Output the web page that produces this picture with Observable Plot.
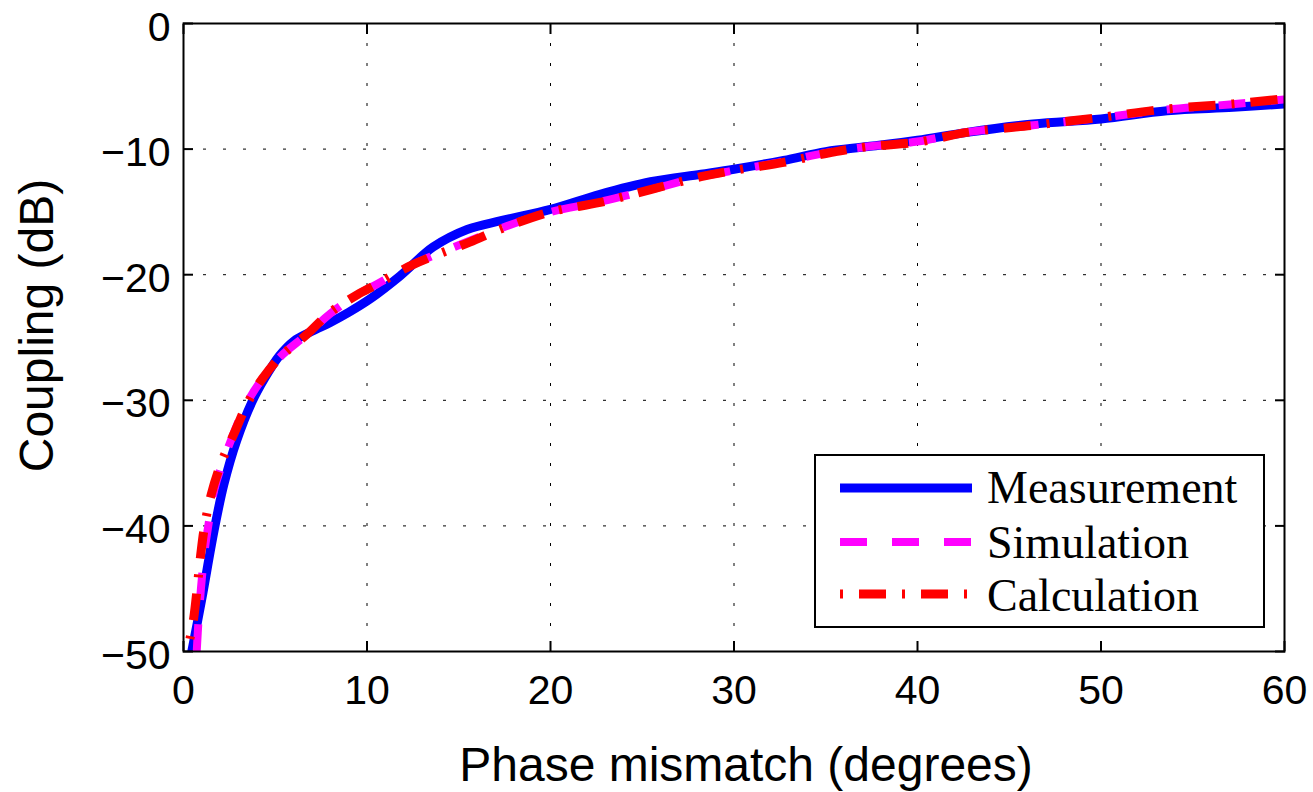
<!DOCTYPE html>
<html>
<head>
<meta charset="utf-8">
<script src="https://cdn.jsdelivr.net/npm/d3@7"></script>
<script src="https://cdn.jsdelivr.net/npm/@observablehq/plot@0.6"></script>
<style>
  html, body { margin: 0; padding: 0; background: white; }
  #wrap { position: relative; width: 1313px; height: 792px; }
  #legend { position: absolute; left: 814px; top: 454px; }
</style>
</head>
<body>
<div id="wrap"></div>
<script>
// ---- data ----
const xTicks = [0, 10, 20, 30, 40, 50, 60];
const yTicks = [-50, -40, -30, -20, -10, 0];
const gridXVals = [10, 20, 30, 40, 50];
const gridYVals = [-40, -30, -20, -10];

const seriesNames = ["Measurement", "Simulation", "Calculation"];

const measX = [0.45, 1.0, 1.65, 2.2, 2.9, 3.74, 4.4, 5.2, 6, 7, 8, 9, 10.2, 11.8, 13.6, 15.46, 17.3, 20, 22.7, 25.45, 28.2, 30, 32.7, 35, 37.3, 40, 42.7, 46.3, 50, 53.6, 57.2, 60];
const measY = [-50, -45.8, -40.5, -36.7, -33.2, -30.1, -28.3, -26.5, -25.3, -24.5, -23.8, -23.0, -21.9, -20.1, -17.8, -16.4, -15.7, -14.8, -13.6, -12.6, -12.0, -11.6, -10.9, -10.2, -9.8, -9.3, -8.67, -8.0, -7.6, -6.94, -6.67, -6.4];

const simX = [0.72, 0.82, 0.95, 1.15, 1.35, 1.7, 2.74, 3.5, 4.29, 5.3, 6.69, 8, 9.46, 10.55, 12.5, 15.6, 17.3, 20, 22.7, 25.5, 28.2, 30, 32.7, 35, 37.3, 40, 42.7, 46.3, 50, 53.6, 57, 60];
const simY = [-50, -47.5, -45, -42, -40, -37, -32.6, -30.1, -28.3, -26.5, -24.8, -23.1, -21.6, -20.75, -19.2, -17.3, -16.3, -15.0, -14.2, -13.2, -12.2, -11.7, -11.0, -10.3, -9.8, -9.4, -8.65, -8.1, -7.5, -6.85, -6.45, -6.05];

const calcX = [0.35, 0.56, 0.93, 1.15, 1.51, 2.05, 2.74, 3.5, 4.29, 5.3, 6.69, 8, 9.46, 10.55, 12.5, 15.6, 17.3, 20, 22.7, 25.5, 28.2, 30, 32.7, 35, 37.3, 40, 42.7, 46.3, 50, 53.6, 57.2, 60];
const calcY = [-49, -47.3, -42.4, -40, -37.5, -35, -32.7, -30.2, -28.3, -26.5, -24.8, -23, -21.6, -20.75, -19.2, -17.4, -16.35, -15.0, -14.25, -13.2, -12.2, -11.7, -11.06, -10.35, -9.8, -9.45, -8.67, -8.1, -7.47, -6.8, -6.4, -6.0];

const toRows = (xs, ys) => xs.map((x, i) => ({x, y: ys[i]}));
const meas = toRows(measX, measY);
const sim = toRows(simX, simY);
const calc = toRows(calcX, calcY);

const styles = {
  Measurement: {stroke: "#0000ff", strokeWidth: 9, dash: null},
  Simulation: {stroke: "#ff00ff", strokeWidth: 8, dash: "27,25"},
  Calculation: {stroke: "#ff0000", strokeWidth: 9, dash: "3,16,27,16"}
};

const blank = () => "";

const chart = Plot.plot({
  width: 1313,
  height: 792,
  marginLeft: 183,
  marginTop: 23,
  marginRight: 29,
  marginBottom: 141,
  style: {fontFamily: "'Liberation Sans', Arial, sans-serif", background: "white", color: "black"},
  x: {domain: [0, 60]},
  y: {domain: [-50, 0]},
  marks: [
    Plot.gridX(gridXVals, {stroke: "black", strokeOpacity: 1, strokeWidth: 1, strokeDasharray: "3,17"}),
    Plot.gridY(gridYVals, {stroke: "black", strokeOpacity: 1, strokeWidth: 1, strokeDasharray: "3,17"}),
    Plot.line(meas, {x: "x", y: "y", stroke: styles.Measurement.stroke, strokeWidth: styles.Measurement.strokeWidth, curve: "catmull-rom", clip: true}),
    Plot.line(sim, {x: "x", y: "y", stroke: styles.Simulation.stroke, strokeWidth: styles.Simulation.strokeWidth, strokeDasharray: styles.Simulation.dash, strokeLinecap: "butt", curve: "catmull-rom", clip: true}),
    Plot.line(calc, {x: "x", y: "y", stroke: styles.Calculation.stroke, strokeWidth: styles.Calculation.strokeWidth, strokeDasharray: styles.Calculation.dash, strokeLinecap: "butt", curve: "catmull-rom", clip: true}),
    // inward tick marks on all four sides
    Plot.axisX(xTicks, {anchor: "bottom", tickSize: -10, tickFormat: blank, label: null, strokeWidth: 2}),
    Plot.axisX(xTicks, {anchor: "top", tickSize: -10, tickFormat: blank, label: null, strokeWidth: 2}),
    Plot.axisY(yTicks, {anchor: "left", tickSize: -10, tickFormat: blank, label: null, strokeWidth: 2}),
    Plot.axisY(yTicks, {anchor: "right", tickSize: -10, tickFormat: blank, label: null, strokeWidth: 2}),
    // tick labels
    Plot.axisX(xTicks, {anchor: "bottom", tickSize: 0, tickPadding: 23, label: null, fontSize: 41}),
    Plot.axisY(yTicks, {anchor: "left", tickSize: 0, tickPadding: 13, label: null, fontSize: 41, dy: 4}),
    Plot.frame({stroke: "black", strokeWidth: 2}),
    // axis titles
    Plot.text(["Phase mismatch (degrees)"], {frameAnchor: "bottom", dx: 12, dy: 114, fontSize: 48, lineAnchor: "middle", fill: "black"}),
    Plot.text(["Coupling (dB)"], {frameAnchor: "left", dx: -146, dy: -12, rotate: -90, fontSize: 48, lineAnchor: "middle", textAnchor: "middle", fill: "black"})
  ]
});

const wrap = document.getElementById("wrap");
wrap.appendChild(chart);

// legend (overlay, lower right inside the axes)
const ns = "http://www.w3.org/2000/svg";
const leg = document.createElementNS(ns, "svg");
leg.setAttribute("id", "legend");
leg.setAttribute("width", 452);
leg.setAttribute("height", 175);
const rect = document.createElementNS(ns, "rect");
rect.setAttribute("x", 1); rect.setAttribute("y", 1);
rect.setAttribute("width", 449); rect.setAttribute("height", 172);
rect.setAttribute("fill", "white"); rect.setAttribute("stroke", "black"); rect.setAttribute("stroke-width", 2);
leg.appendChild(rect);
const rowY = [34, 88, 140];
const baseY = [49, 104, 157];
seriesNames.forEach((name, i) => {
  const s = styles[name];
  const ln = document.createElementNS(ns, "line");
  ln.setAttribute("x1", 26); ln.setAttribute("x2", 158);
  ln.setAttribute("y1", rowY[i]); ln.setAttribute("y2", rowY[i]);
  ln.setAttribute("stroke", s.stroke);
  ln.setAttribute("stroke-width", s.strokeWidth);
  if (s.dash) ln.setAttribute("stroke-dasharray", s.dash);
  leg.appendChild(ln);
  const t = document.createElementNS(ns, "text");
  t.setAttribute("x", 173); t.setAttribute("y", baseY[i]);
  t.setAttribute("font-family", "'Liberation Serif', 'Times New Roman', serif");
  t.setAttribute("font-size", 46);
  t.setAttribute("fill", "black");
  t.textContent = name;
  leg.appendChild(t);
});
wrap.appendChild(leg);
</script>
</body>
</html>
